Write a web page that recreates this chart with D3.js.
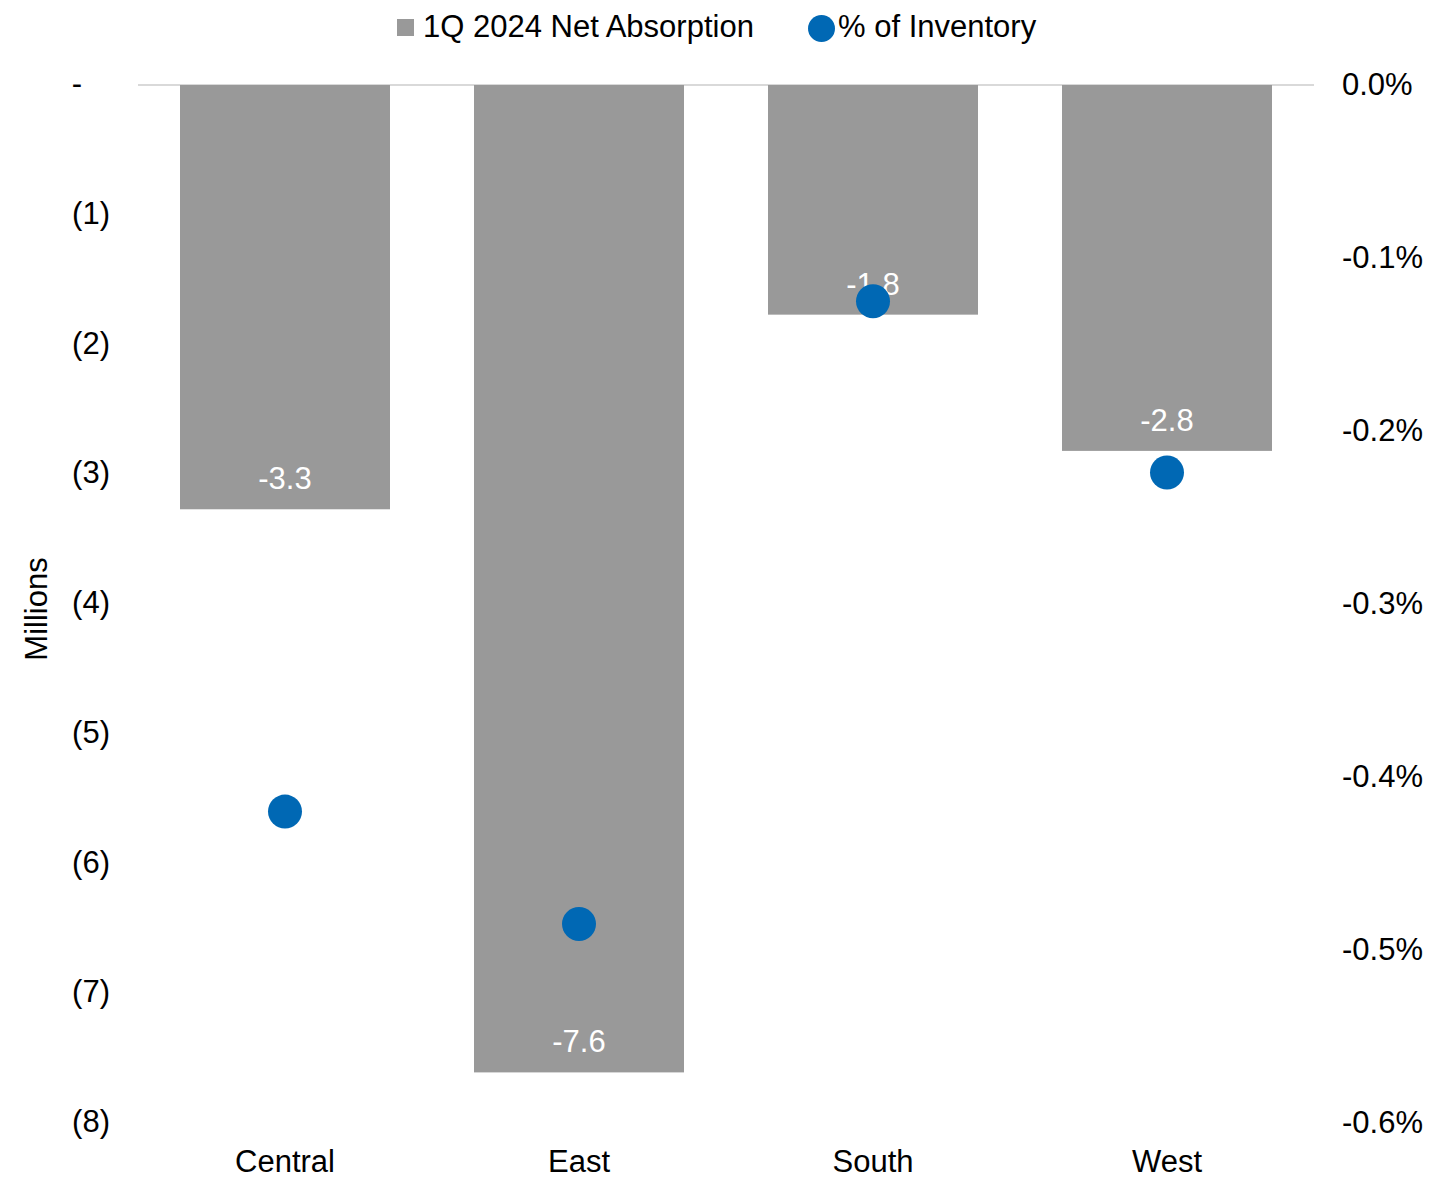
<!DOCTYPE html>
<html>
<head>
<meta charset="utf-8">
<script src="https://cdn.jsdelivr.net/npm/d3@7"></script>
<style>
  html, body { margin: 0; padding: 0; background: #ffffff; }
  svg text { font-family: Arial, "Liberation Sans", sans-serif; }
</style>
</head>
<body>
<svg id="chart" width="1433" height="1180"></svg>
<script>
// Regional net absorption (millions of sq ft) and share of inventory
const categories = ["Central", "East", "South", "West"];
const netAbsorption = [-3.27, -7.61, -1.77, -2.82];   // millions
const pctInventory = [-0.42, -0.485, -0.125, -0.224]; // percent
const leftTicks = [0, -1, -2, -3, -4, -5, -6, -7, -8];
const rightTicks = [0, -0.1, -0.2, -0.3, -0.4, -0.5, -0.6];
const seriesNames = ["1Q 2024 Net Absorption", "% of Inventory"];

const barColor = "#999999";
const dotColor = "#0068b4";
const fontSize = 31;
const fontFamily = "Arial, 'Liberation Sans', sans-serif";

// plain hyphen for negatives
const oneDecimal = v => d3.format(".1f")(v).replace("\u2212", "-");

const svg = d3.select("#chart");

const x = d3.scaleBand()
  .domain(categories)
  .range([138, 1314])
  .paddingInner(0.2857)
  .paddingOuter(0.14285);

const yLeft = d3.scaleLinear().domain([-8, 0]).range([1123, 85]);
const yRight = d3.scaleLinear().domain([-0.6, 0]).range([1123, 85]);

// zero line
svg.append("line")
  .attr("x1", x.range()[0]).attr("x2", x.range()[1])
  .attr("y1", yLeft(0)).attr("y2", yLeft(0))
  .attr("stroke", "#d9d9d9").attr("stroke-width", 2);

// bars
svg.append("g").selectAll("rect")
  .data(categories)
  .join("rect")
  .attr("x", d => x(d))
  .attr("width", x.bandwidth())
  .attr("y", yLeft(0))
  .attr("height", (d, i) => yLeft(netAbsorption[i]) - yLeft(0))
  .attr("fill", barColor);

// bar value labels
svg.append("g").selectAll("text")
  .data(categories)
  .join("text")
  .attr("x", d => x(d) + x.bandwidth() / 2)
  .attr("y", (d, i) => yLeft(netAbsorption[i]) - 20)
  .attr("text-anchor", "middle")
  .attr("fill", "#ffffff")
  .attr("font-size", fontSize)
  .text((d, i) => oneDecimal(netAbsorption[i]));

// inventory dots
svg.append("g").selectAll("circle")
  .data(categories)
  .join("circle")
  .attr("cx", d => x(d) + x.bandwidth() / 2)
  .attr("cy", (d, i) => yRight(pctInventory[i]))
  .attr("r", 17)
  .attr("fill", dotColor);

// left axis
const leftFmt = v => v === 0 ? "-" : "(" + Math.abs(v) + ")";
const leftAxis = svg.append("g")
  .attr("transform", "translate(110,0)")
  .call(d3.axisLeft(yLeft).tickValues(leftTicks).tickFormat(leftFmt).tickSize(0).tickPadding(0));
leftAxis.select(".domain").remove();
leftAxis.selectAll("text")
  .attr("font-size", fontSize)
  .attr("font-family", fontFamily)
  .attr("fill", "#000")
  .attr("dy", "0.28em")
  .attr("x", d => d === 0 ? -28 : 0);

// right axis
const rightAxis = svg.append("g")
  .attr("transform", "translate(1342,0)")
  .call(d3.axisRight(yRight).tickValues(rightTicks)
    .tickFormat(v => oneDecimal(v === 0 ? 0 : v) + "%").tickSize(0).tickPadding(0));
rightAxis.select(".domain").remove();
rightAxis.selectAll("text")
  .attr("font-size", fontSize)
  .attr("font-family", fontFamily)
  .attr("fill", "#000");

// category axis
const xAxis = svg.append("g")
  .attr("transform", "translate(0,1140)")
  .call(d3.axisBottom(x).tickSize(0).tickPadding(0));
xAxis.select(".domain").remove();
xAxis.selectAll("text")
  .attr("font-size", fontSize)
  .attr("font-family", fontFamily)
  .attr("fill", "#000")
  .attr("dy", "1.03em");

// left axis title
svg.append("text")
  .attr("transform", "translate(47,609) rotate(-90)")
  .attr("text-anchor", "middle")
  .attr("font-size", fontSize)
  .attr("fill", "#000")
  .text("Millions");

// legend
const legend = svg.append("g");
legend.append("rect")
  .attr("x", 397).attr("y", 19).attr("width", 17).attr("height", 17)
  .attr("fill", barColor);
legend.append("text")
  .attr("x", 423).attr("y", 37)
  .attr("font-size", fontSize)
  .attr("fill", "#000")
  .text(seriesNames[0]);
legend.append("circle")
  .attr("cx", 821.5).attr("cy", 28.5).attr("r", 13.5)
  .attr("fill", dotColor);
legend.append("text")
  .attr("x", 838).attr("y", 37)
  .attr("font-size", fontSize)
  .attr("fill", "#000")
  .text(seriesNames[1]);
</script>
</body>
</html>
